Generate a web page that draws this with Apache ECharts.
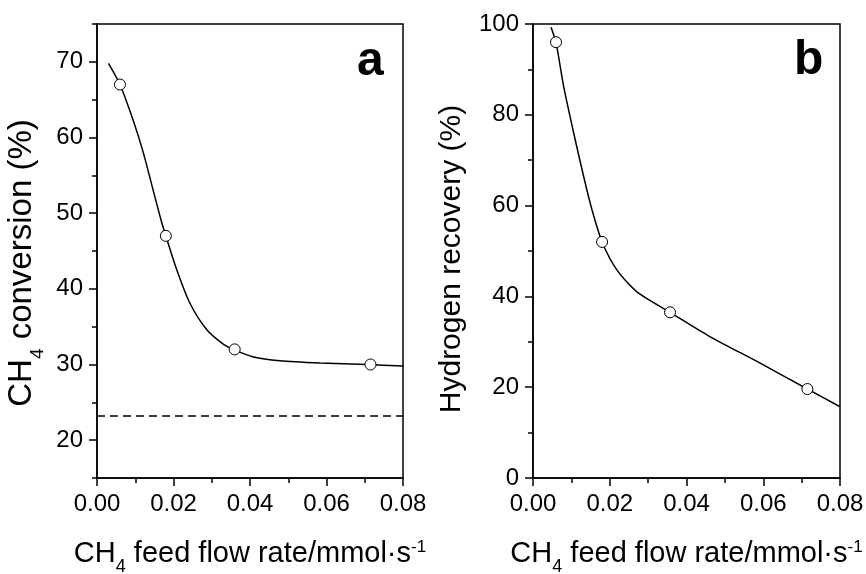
<!DOCTYPE html>
<html>
<head>
<meta charset="utf-8">
<script src="https://cdn.jsdelivr.net/npm/echarts@6/dist/echarts.min.js"></script>
<style>
html,body{margin:0;padding:0;background:#fff;}
#c{width:866px;height:574px;}
</style>
</head>
<body>
<div id="c"></div>
<script>
// ---- Panel a: CH4 conversion ----
var pointsAx = [0.006, 0.018, 0.036, 0.0715];
var pointsAy = [67, 47, 32, 30];
var curveAx = [0.0030, 0.0060, 0.0095, 0.0121, 0.0147, 0.0169, 0.0180, 0.0208, 0.0243, 0.0287, 0.0330, 0.0356, 0.0409, 0.0478, 0.0583, 0.0705, 0.0800];
var curveAy = [69.8, 67.0, 62.2, 58.0, 53.0, 48.8, 47.0, 42.6, 38.1, 34.6, 32.7, 32.0, 31.0, 30.5, 30.2, 30.0, 29.8];
var dashAy = 23.2;
var yTicksA = [20, 30, 40, 50, 60, 70];
var yMinorA = [15, 25, 35, 45, 55, 65, 75];

// ---- Panel b: Hydrogen recovery ----
var pointsBx = [0.006, 0.018, 0.0357, 0.0715];
var pointsBy = [96, 52, 36.5, 19.6];
var curveBx = [0.0047, 0.0060, 0.0080, 0.0106, 0.0132, 0.0154, 0.0180, 0.0219, 0.0271, 0.0357, 0.0462, 0.0592, 0.0715, 0.0800];
var curveBy = [99.3, 95.9, 86.2, 76.0, 66.4, 59.0, 52.0, 45.8, 41.0, 36.5, 31.1, 25.3, 19.6, 15.7];

var xTicks = [0, 0.02, 0.04, 0.06, 0.08];

function zip(a, b) { return a.map(function (v, i) { return [v, b[i]]; }); }

var FONT = 'Liberation Sans, Arial, sans-serif';
var black = '#000';

var rich = {
  n: { fontSize: 29, fontFamily: FONT, color: black, lineHeight: 30 },
  sub: { fontSize: 18, fontFamily: FONT, color: black, lineHeight: 3, height: 3, verticalAlign: 'bottom' },
  sup: { fontSize: 17, fontFamily: FONT, color: black, lineHeight: 20, verticalAlign: 'top' }
};
var richY = {
  n: { fontSize: 33, fontFamily: FONT, color: black, lineHeight: 34 },
  sub: { fontSize: 19, fontFamily: FONT, color: black, lineHeight: 3, height: 3, verticalAlign: 'bottom' }
};
var xName = '{n|CH}{sub|4}{n| feed flow rate/mmol·s}{sup|-1}';

function xAxisDef(gi) {
  return {
    type: 'value', gridIndex: gi, min: 0, max: 0.08, interval: 0.02,
    axisLine: { show: true, lineStyle: { color: black, width: 1.5 } },
    axisTick: { show: true, inside: false, length: 8, lineStyle: { color: black, width: 1.5 } },
    minorTick: { show: true, splitNumber: 2, length: 5, lineStyle: { color: black, width: 1.5 } },
    axisLabel: { fontSize: 24, fontFamily: FONT, color: black, margin: 14,
      formatter: function (v) { return v.toFixed(2); } },
    splitLine: { show: false }, minorSplitLine: { show: false },
    name: xName, nameLocation: 'middle', nameGap: 61,
    nameTextStyle: { rich: rich }
  };
}

var gridBase = { show: true, borderColor: black, borderWidth: 1.5, backgroundColor: 'transparent',
  containLabel: false, outerBoundsMode: 'none' };

var option = {
  animation: false,
  backgroundColor: '#fff',
  grid: [
    Object.assign({ left: 97, top: 24, width: 306, height: 454 }, gridBase),
    Object.assign({ left: 533, top: 24, width: 307, height: 454 }, gridBase)
  ],
  xAxis: [xAxisDef(0), xAxisDef(1)],
  yAxis: [
    {
      type: 'value', gridIndex: 0, min: 15, max: 75, position: 'left',
      axisLine: { show: true, lineStyle: { color: black, width: 1.5 } },
      axisTick: { show: true, length: 8, customValues: yTicksA, lineStyle: { color: black, width: 1.5 } },
      axisLabel: { fontSize: 24, fontFamily: FONT, color: black, margin: 14, customValues: yTicksA },
      splitLine: { show: false },
      name: '{n|CH}{sub|4}{n| conversion (%)}', nameLocation: 'middle', nameGap: 58,
      nameTextStyle: { rich: richY, padding: [0, 24, 0, 0] }
    },
    {
      type: 'value', gridIndex: 0, min: 15, max: 75, position: 'left', offset: 0,
      axisLine: { show: false },
      axisTick: { show: true, length: 5, customValues: yMinorA, lineStyle: { color: black, width: 1.5 } },
      axisLabel: { show: false },
      splitLine: { show: false }
    },
    {
      type: 'value', gridIndex: 1, min: 0, max: 100, interval: 20,
      axisLine: { show: true, lineStyle: { color: black, width: 1.5 } },
      axisTick: { show: true, length: 8, lineStyle: { color: black, width: 1.5 } },
      minorTick: { show: true, splitNumber: 2, length: 5, lineStyle: { color: black, width: 1.5 } },
      axisLabel: { fontSize: 24, fontFamily: FONT, color: black, margin: 14 },
      splitLine: { show: false }, minorSplitLine: { show: false },
      name: 'Hydrogen recovery (%)', nameLocation: 'middle', nameGap: 66,
      nameTextStyle: { fontSize: 30, fontFamily: FONT, color: black, lineHeight: 30, padding: [0, 16, 0, 0] }
    }
  ],
  series: [
    {
      type: 'line', xAxisIndex: 0, yAxisIndex: 0, data: zip(curveAx, curveAy),
      smooth: 0.25, showSymbol: false, symbol: 'none', lineStyle: { color: black, width: 1.5 }, z: 2
    },
    {
      type: 'line', xAxisIndex: 0, yAxisIndex: 0, data: [[0, dashAy], [0.08, dashAy]],
      showSymbol: false, symbol: 'none', lineStyle: { color: black, width: 1.5, type: [8, 5] }, z: 2
    },
    {
      type: 'scatter', xAxisIndex: 0, yAxisIndex: 0, data: zip(pointsAx, pointsAy),
      symbol: 'circle', symbolSize: 11, itemStyle: { color: '#fff', borderColor: black, borderWidth: 1, opacity: 1 }, z: 3
    },
    {
      type: 'line', xAxisIndex: 1, yAxisIndex: 2, data: zip(curveBx, curveBy),
      smooth: 0.25, showSymbol: false, symbol: 'none', lineStyle: { color: black, width: 1.5 }, z: 2
    },
    {
      type: 'scatter', xAxisIndex: 1, yAxisIndex: 2, data: zip(pointsBx, pointsBy),
      symbol: 'circle', symbolSize: 11, itemStyle: { color: '#fff', borderColor: black, borderWidth: 1, opacity: 1 }, z: 3
    }
  ],
  graphic: [
    { type: 'text', left: 357, top: 38, style: { text: 'a', font: 'bold 48px ' + FONT, fill: black } },
    { type: 'text', left: 794, top: 37, style: { text: 'b', font: 'bold 48px ' + FONT, fill: black } }
  ]
};

var chart = echarts.init(document.getElementById('c'), null, { renderer: 'canvas' });
chart.setOption(option);
</script>
</body>
</html>
